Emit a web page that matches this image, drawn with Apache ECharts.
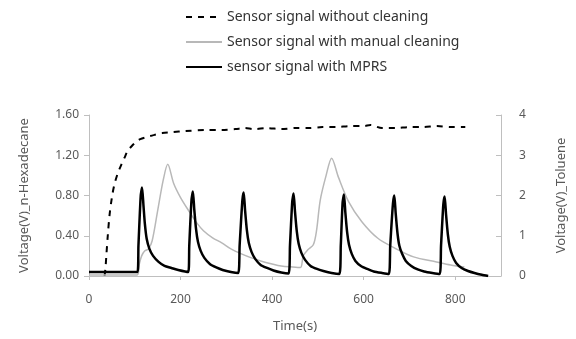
<!DOCTYPE html>
<html>
<head>
<meta charset="utf-8">
<script src="https://cdn.jsdelivr.net/npm/echarts@6/dist/echarts.min.js"></script>
<style>
  html, body { margin: 0; padding: 0; background: #fff; }
  #chart { width: 576px; height: 339px; }
</style>
</head>
<body>
<div id="chart"></div>
<script>
// series names (legend order)
const seriesNames = [
  "Sensor signal without cleaning",
  "Sensor signal with manual cleaning",
  "sensor signal with MPRS",
];

// [time (s), voltage (V)]
const withoutCleaning = [
  [34, 0], [36, 0.08], [38, 0.21], [41, 0.4], [45, 0.61], [50, 0.78], [55, 0.9],
  [62, 1.01], [70, 1.1], [78, 1.18], [84, 1.24], [95, 1.3], [105, 1.34], [112, 1.36],
  [125, 1.38], [141, 1.4], [160, 1.42], [183, 1.43], [210, 1.44], [254, 1.45],
  [290, 1.45], [320, 1.46], [340, 1.47], [360, 1.46], [390, 1.47], [420, 1.46],
  [450, 1.47], [480, 1.47], [510, 1.48], [540, 1.48], [570, 1.49], [600, 1.49],
  [615, 1.5], [640, 1.47], [670, 1.47], [700, 1.48], [730, 1.48], [760, 1.49],
  [790, 1.48], [822, 1.48],
];

const manualCleaning = [
  [0, 0.01], [105, 0.01], [110, 0.12], [115, 0.2], [122, 0.25], [130, 0.27],
  [138, 0.35], [150, 0.65], [162, 0.95], [172, 1.11], [185, 0.92], [200, 0.78],
  [219, 0.64], [235, 0.53], [250, 0.45], [270, 0.38], [290, 0.33], [310, 0.27],
  [333, 0.22], [355, 0.18], [375, 0.15], [400, 0.12], [420, 0.1], [445, 0.09],
  [462, 0.085], [468, 0.2], [478, 0.26], [490, 0.31], [497, 0.45], [505, 0.75],
  [518, 1.0], [530, 1.17], [545, 0.98], [567, 0.74], [596, 0.54], [631, 0.375],
  [667, 0.28], [709, 0.19], [759, 0.14], [790, 0.11], [820, 0.09],
];

const mprs = [
  [0, 0.04], [106, 0.04], [108, 0.3], [113, 0.8], [116, 0.88], [119, 0.7], [122, 0.52],
  [126, 0.37], [132, 0.27], [140, 0.2], [152, 0.14], [165, 0.1], [180, 0.08],
  [195, 0.06], [217, 0.04],
  [219, 0.3], [224, 0.76], [227, 0.84], [230, 0.66], [234, 0.46], [238, 0.34],
  [244, 0.25], [252, 0.18], [264, 0.12], [278, 0.085], [292, 0.06], [310, 0.04],
  [326, 0.03],
  [329, 0.3], [335, 0.75], [338, 0.83], [341, 0.65], [345, 0.45], [349, 0.33],
  [355, 0.24], [363, 0.17], [375, 0.11], [389, 0.08], [403, 0.055], [420, 0.035],
  [436, 0.025],
  [439, 0.3], [444, 0.74], [447, 0.82], [450, 0.64], [454, 0.44], [458, 0.32],
  [464, 0.23], [472, 0.16], [484, 0.1], [498, 0.07], [512, 0.05], [530, 0.03],
  [547, 0.02],
  [550, 0.3], [554, 0.73], [557, 0.81], [560, 0.63], [564, 0.43], [568, 0.31],
  [574, 0.22], [582, 0.15], [594, 0.1], [608, 0.07], [622, 0.045], [640, 0.03],
  [655, 0.02],
  [658, 0.3], [664, 0.72], [667, 0.8], [670, 0.62], [674, 0.42], [678, 0.3],
  [684, 0.22], [692, 0.15], [704, 0.1], [718, 0.065], [732, 0.045], [750, 0.03],
  [766, 0.02],
  [769, 0.3], [774, 0.71], [777, 0.79], [780, 0.61], [784, 0.41], [788, 0.29],
  [794, 0.2], [802, 0.13], [814, 0.08], [828, 0.05], [842, 0.03], [858, 0.012],
  [872, 0.0],
];

const leftTicks = { min: 0, max: 1.6, interval: 0.4 };
const rightTicks = { min: 0, max: 4, interval: 1 };
const timeTicks = { min: 0, max: 900, interval: 200 };

const axisGray = "#bfbfbf";
const labelGray = "#595959";
const font = "Noto Sans";

const chart = echarts.init(document.getElementById("chart"), null, { renderer: "canvas" });

const option = {
  animation: false,
  textStyle: { fontFamily: font },
  legend: {
    orient: "vertical",
    left: 180,
    top: 5,
    itemWidth: 36,
    itemHeight: 14,
    itemGap: 11,
    itemStyle: { opacity: 0 },
    textStyle: { fontFamily: font, fontSize: 14, color: "#333" },
    data: seriesNames,
  },
  grid: { left: 89, right: 63, top: 115, bottom: 63 },
  xAxis: {
    type: "value",
    min: timeTicks.min,
    max: timeTicks.max,
    interval: timeTicks.interval,
    name: "Time(s)",
    nameLocation: "middle",
    nameGap: 44,
    nameTextStyle: { fontFamily: font, fontSize: 13, color: labelGray },
    axisLine: { show: true, lineStyle: { color: axisGray } },
    axisTick: { show: true, length: 4, lineStyle: { color: axisGray } },
    axisLabel: { showMaxLabel: false, margin: 18, fontSize: 12, color: labelGray },
    splitLine: { show: false },
  },
  yAxis: [
    {
      type: "value",
      min: leftTicks.min,
      max: leftTicks.max,
      interval: leftTicks.interval,
      name: "Voltage(V)_n-Hexadecane",
      nameLocation: "middle",
      nameGap: 58,
      nameTextStyle: { fontFamily: font, fontSize: 13, color: labelGray },
      axisLine: { show: true, lineStyle: { color: axisGray } },
      axisTick: { show: true, length: 5, lineStyle: { color: axisGray } },
      axisLabel: {
        margin: 10,
        fontSize: 12,
        color: labelGray,
        formatter: (v) => v.toFixed(2),
      },
      splitLine: { show: false },
    },
    {
      type: "value",
      position: "right",
      min: rightTicks.min,
      max: rightTicks.max,
      interval: rightTicks.interval,
      name: "Voltage(V)_Toluene",
      nameLocation: "middle",
      nameGap: 54,
      nameTextStyle: { fontFamily: font, fontSize: 13, color: labelGray },
      axisLine: { show: true, lineStyle: { color: axisGray } },
      axisTick: { show: true, inside: true, length: 5, lineStyle: { color: axisGray } },
      axisLabel: { margin: 18, fontSize: 12, color: labelGray },
      splitLine: { show: false },
    },
  ],
  series: [
    {
      name: seriesNames[0],
      type: "line",
      yAxisIndex: 0,
      data: withoutCleaning,
      symbol: "none",
      smooth: 0.3,
      lineStyle: { color: "#000", width: 2, type: [6, 6] },
      itemStyle: { color: "#000" },
      z: 1,
    },
    {
      name: seriesNames[1],
      type: "line",
      yAxisIndex: 0,
      data: manualCleaning,
      symbol: "none",
      smooth: 0.3,
      lineStyle: { color: "#b8b8b8", width: 1.5 },
      itemStyle: { color: "#b8b8b8" },
      z: 2,
    },
    {
      name: seriesNames[2],
      type: "line",
      yAxisIndex: 0,
      data: mprs,
      symbol: "none",
      smooth: 0.2,
      lineStyle: { color: "#000", width: 2.5 },
      itemStyle: { color: "#000" },
      z: 3,
    },
  ],
};

chart.setOption(option);
</script>
</body>
</html>
